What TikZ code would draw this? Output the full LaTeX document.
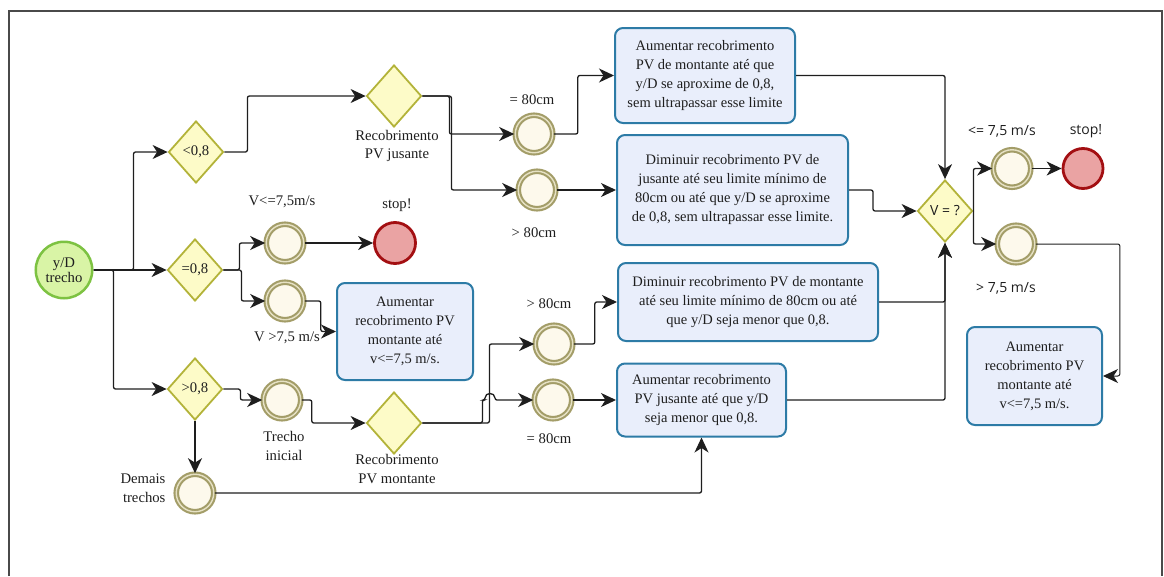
\documentclass[tikz,border=0pt]{standalone}
\usepackage{fontspec}
\setmainfont{Liberation Serif}
\newfontfamily\mysansfam{Open Sans}
\usetikzlibrary{arrows.meta,shapes.geometric}
\definecolor{gwfill}{HTML}{FDFBC8}
\definecolor{gwdraw}{HTML}{B3B339}
\definecolor{evfill}{HTML}{FDF9EC}
\definecolor{evdraw}{HTML}{A39D68}
\definecolor{evgap}{HTML}{E6E1C4}
\definecolor{stfill}{HTML}{EAA3A3}
\definecolor{stdraw}{HTML}{A30F12}
\definecolor{bgfill}{HTML}{D9F4A6}
\definecolor{bgdraw}{HTML}{7DC242}
\definecolor{bxfill}{HTML}{E9EEFB}
\definecolor{bxdraw}{HTML}{2D7BA6}
\definecolor{ink}{HTML}{1E1E1E}
\definecolor{framecol}{HTML}{4A4A4A}
\newcommand{\myserif}{\fontsize{14.7}{18.5}\selectfont}
\newcommand{\mybox}{\fontsize{14.5}{19}\selectfont}
\newcommand{\mysans}{\mysansfam\fontsize{14}{18}\selectfont}
\begin{document}
\begin{tikzpicture}[x=1pt,y=-1pt,
 gw/.style={diamond,draw=gwdraw,fill=gwfill,line width=1.8pt,minimum width=55pt,minimum height=62pt,inner sep=0pt,font=\myserif,text=ink},
 ev/.style={circle,draw=evdraw,double=evgap,double distance=1.4pt,line width=2.1pt,fill=evfill,minimum size=37.5pt,inner sep=0pt},
 endev/.style={circle,draw=stdraw,fill=stfill,line width=2.8pt,minimum size=41pt,inner sep=0pt},
 box/.style={rectangle,rounded corners=8pt,draw=bxdraw,fill=bxfill,line width=2pt,align=center,font=\mybox,text=ink,inner sep=2pt},
 lab/.style={align=center,font=\myserif,text=ink,inner sep=0pt},
 slab/.style={align=center,font=\mysans,text=ink,inner sep=0pt},
 conn/.style={draw=ink,line width=1.3pt,rounded corners=2pt,-{Stealth[length=15pt,width=14pt,inset=4.5pt]}},
]
\useasboundingbox (0,0) rectangle (1164,576);
\draw[framecol,line width=1.8pt] (9,576) -- (9,11) -- (1162,11) -- (1162,576);

% start
\node[circle,draw=bgdraw,fill=bgfill,line width=2.5pt,minimum size=56.5pt,inner sep=0pt,align=center,font=\myserif,text=ink] (start) at (64,270) {y/D\\[-3pt]trecho};

% gateways
\node[gw] (lt) at (196,152) {<0,8};
\node[gw] (eq) at (195,270) {=0,8};
\node[gw] (gt) at (195,389) {>0,8};
\node[gw] (rj) at (394,96) {};
\node[gw] (rm) at (394,423) {};
\node[gw,font=\mysans] (v) at (945,211) {V = ?};

% events
\node[ev] (c1) at (285,243) {};
\node[ev] (c2) at (285,301) {};
\node[ev] (c3) at (282,400) {};
\node[ev] (c4) at (195,493) {};
\node[ev] (c5) at (534,134) {};
\node[ev] (c6) at (537,190) {};
\node[ev] (c7) at (554,344) {};
\node[ev] (c8) at (553,400) {};
\node[ev] (c9) at (1012,168.5) {};
\node[ev] (c10) at (1016,244) {};
\node[endev] (stop1) at (395,243) {};
\node[endev,minimum size=40pt] (stop2) at (1083,168.5) {};

% boxes
\node[box,minimum width=180pt,minimum height=95pt] (b1) at (705,75.5) {Aumentar recobrimento\\PV de montante até que\\y/D se aproxime de 0,8,\\sem ultrapassar esse limite};
\node[box,minimum width=231pt,minimum height=110pt] (b2) at (732.5,190) {Diminuir recobrimento PV de\\jusante até seu limite mínimo de\\80cm ou até que y/D se aproxime\\de 0,8, sem ultrapassar esse limite.};
\node[box,minimum width=260pt,minimum height=78pt] (b3) at (748,302) {Diminuir recobrimento PV de montante\\até seu limite mínimo de 80cm ou até\\que y/D seja menor que 0,8.};
\node[box,minimum width=169pt,minimum height=73pt] (b4) at (701.5,400) {Aumentar recobrimento\\PV jusante até que y/D\\seja menor que 0,8.};
\node[box,minimum width=136pt,minimum height=97pt] (b5) at (405,331.5) {Aumentar\\recobrimento PV\\montante até\\v<=7,5 m/s.};
\node[box,minimum width=135pt,minimum height=98pt] (b6) at (1034.5,376) {Aumentar\\recobrimento PV\\montante até\\v<=7,5 m/s.};

% labels
\node[lab] (lrj) at (397,146) {Recobrimento\\PV jusante};
\node[lab] (lrm) at (397,469) {Recobrimento\\PV montante};
\node[lab] (l5) at (532,100) {= 80cm};
\node[lab] (l6) at (534,233) {> 80cm};
\node[lab] (l1) at (282,202) {V<=7,5m/s};
\node[lab] (ls1) at (397,205) {stop!};
\node[lab] (l2) at (287,338) {V >7,5 m/s};
\node[lab] (l3) at (284,446) {Trecho\\inicial};
\node[lab,align=right] (l4) at (143,488) {Demais\\trechos};
\node[lab] (l7) at (549,304) {> 80cm};
\node[lab] (l8) at (549,439) {= 80cm};
\node[slab] (l9) at (1002,131) {<= 7,5 m/s};
\node[slab] (ls2) at (1086,131) {stop!};
\node[slab] (l10) at (1006,288) {> 7,5 m/s};

% connectors
\draw[conn] (start.east) -- ++(40,0) |- (lt.west);
\draw[conn] (start.east) -- (eq.west);
\draw[conn] (start.east) -- ++(20,0) |- (gt.west);
\draw[conn] (lt.east) -- ++(23,0) |- (rj.west);
\draw[conn] (eq.east) -- ++(16,0) |- (c1.west);
\draw[conn] (eq.east) -- ++(18,0) |- (c2.west);
\draw[conn] (c1.east) -- (stop1.west);
\draw[conn] (c2.east) -- ++(16,0) |- (b5.west);
\draw[conn] (gt.east) -- ++(17,0) |- (c3.west);
\draw[conn] (gt.south) -- (c4.north);
\draw[conn] (c3.east) -- ++(10,0) |- (rm.west);
\draw[conn] (rj.east) -- ++(27,0) |- (c5.west);
\draw[conn] (rj.east) -- ++(29,0) |- (c6.west);
\draw[conn] (c5.east) -- ++(24,0) |- (b1.west);
\draw[conn] (c6.east) -- (b2.west);
\draw[conn] (rm.east) -- ++(67,0) |- (c7.west);
\draw[conn] (rm.east) -- ++(60,0) |- (485,400) .. controls (485,392) and (495,392) .. (495,400) -- (c8.west);
\draw[conn] (c8.east) -- (b4.west);
\draw[conn] (c7.east) -- ++(21,0) |- (b3.west);
\draw[conn] (c4.east) -| (b4.south);
\draw[conn] (b1.east) -| (v.north);
\draw[conn] (b2.east) -- ++(24,0) |- (v.west);
\draw[conn] (b3.east) -| (v.south);
\draw[conn] (b4.east) -| (v.south);
\draw[conn] (v.east) |- (c9.west);
\draw[conn] (v.east) |- (c10.west);
\draw[conn] (c9.east) -- (stop2.west);
\draw[conn,line width=1pt] (c10.east) -- ++(84,0) |- (b6.east);
\end{tikzpicture}
\end{document}
